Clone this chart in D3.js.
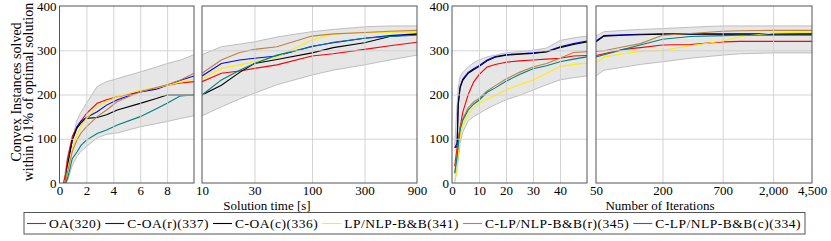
<!DOCTYPE html>
<html>
<head>
<meta charset="utf-8">
<script src="https://cdnjs.cloudflare.com/ajax/libs/d3/7.8.5/d3.min.js"></script>
<style>
	body { margin: 0; background: #fff; }
	svg text { font-family: 'Liberation Serif', 'Times New Roman', Times, 'DejaVu Serif', serif !important; fill: #000; }
</style>
</head>
<body>
<svg id="chart" width="831" height="241" font-family="Liberation Serif"></svg>
<script>

// solution time samples [s]
var timeGrid   = [0.3, 0.45, 0.6, 0.95, 1.3, 1.6, 2, 2.8, 3.5, 4.3, 6, 7.2, 8, 9, 10, 15, 22, 30, 48, 100, 156, 300, 510, 900];
var oaTime     = [0, 20, 55, 105, 127, 140, 157, 180, 188, 195, 206, 214, 221, 226, 229, 248, 253, 259, 267, 287, 292, 302, 310, 318];
var coaRTime   = [0, 0, 40, 97, 127, 140, 148, 161, 176, 188, 206, 212, 221, 232, 242, 270, 278, 282, 287, 309, 317, 327, 333, 337];
var coaCTime   = [0, 0, 40, 97, 124, 136, 146, 148, 154, 165, 180, 191, 199, 199, 199, 221, 250, 270, 279, 294, 306, 317, 331, 336];
var lpTime     = [0, 0, 30, 78, 108, 128, 146, 172, 184, 195, 210, 215, 221, 228, 235, 259, 267, 274, 285, 323, 336, 340, 341, 341];
var clpRTime   = [0, 0, 25, 71, 97, 113, 127, 150, 165, 184, 206, 216, 222, 233, 248, 278, 295, 302, 308, 332, 337, 340, 343, 345];
var clpCTime   = [0, 0, 10, 55, 70, 85, 97, 112, 120, 131, 150, 168, 180, 197, 199, 233, 255, 270, 289, 308, 318, 327, 331, 334];
var bandHiTime = [0, 30, 60, 100, 142, 160, 180, 218, 229, 236, 251, 262, 270, 278, 290, 308, 314, 319, 330, 342, 347, 353, 355, 355];
var bandLoTime = [0, 0, 5, 40, 60, 72, 82, 102, 110, 113, 127, 134, 139, 146, 152, 172, 190, 203, 222, 244, 255, 267, 278, 289];

// iteration samples
var iterGrid   = [1, 1.9, 2.3, 3, 4, 6, 8, 10, 13, 16, 20, 25, 30, 35, 40, 45, 50, 59, 89, 126, 200, 357, 700, 1012, 2000, 4500];
var oaIter     = [38, 80, 100, 125, 160, 200, 228, 245, 262, 268, 273, 276, 278, 280, 282, 287, 288, 292, 302, 306, 312, 313, 319, 320, 320, 320];
var coaRIter   = [80, 90, 180, 218, 235, 250, 258, 265, 278, 286, 290, 292, 294, 297, 308, 315, 321, 333, 335, 336, 337, 337, 337, 337, 337, 337];
var coaCIter   = [80, 82, 175, 215, 232, 248, 256, 263, 276, 284, 289, 291, 293, 296, 306, 313, 319, 332, 334, 335, 336, 336, 336, 336, 336, 336];
var lpIter     = [7, 30, 70, 105, 130, 155, 170, 180, 190, 198, 210, 222, 233, 248, 263, 268, 271, 285, 292, 297, 300, 310, 321, 331, 339, 341];
var clpRIter   = [22, 65, 90, 125, 145, 170, 183, 191, 208, 220, 235, 250, 262, 270, 282, 295, 297, 299, 308, 315, 334, 338, 343, 344, 345, 345];
var clpCIter   = [22, 60, 85, 120, 142, 165, 178, 187, 205, 215, 230, 245, 258, 265, 274, 280, 285, 290, 302, 312, 325, 331, 333, 334, 334, 334];
var bandHiIter = [85, 180, 215, 240, 250, 262, 272, 278, 285, 289, 294, 297, 300, 305, 322, 328, 332, 342, 345, 347, 349, 352, 355, 355, 355, 355];
var bandLoIter = [0, 30, 50, 90, 115, 140, 150, 157, 168, 177, 188, 198, 210, 222, 233, 238, 242, 255, 262, 268, 274, 282, 289, 292, 294, 294];

var seriesNames = ["OA(320)", "C-OA(r)(337)", "C-OA(c)(336)", "LP/NLP-B&B(341)", "C-LP/NLP-B&B(r)(345)", "C-LP/NLP-B&B(c)(334)"];
var seriesColors = ["#ff0000", "#0000ff", "#000000", "#ffee00", "#bf8040", "#008080"];

var yTicks = [0, 100, 200, 300, 400];

var timeSets = [oaTime, coaRTime, coaCTime, lpTime, clpRTime, clpCTime];
var iterSets = [oaIter, coaRIter, coaCIter, lpIter, clpRIter, clpCIter];

var svg = d3.select("#chart");
var top_ = 6, bottom = 183;
var y = d3.scaleLinear().domain([0, 400]).range([bottom, top_]);

var panels = [
	{ x: d3.scaleLinear().domain([0, 10]).range([59.5, 194]), ticks: [0, 2, 4, 6, 8], grid: [2, 4, 6, 8],
	  xs: timeGrid, sets: timeSets, hi: bandHiTime, lo: bandLoTime, yAxis: true },
	{ x: d3.scaleLog().domain([10, 900]).range([202, 417]), ticks: [10, 30, 100, 300, 900], grid: [30, 100, 300],
	  xs: timeGrid, sets: timeSets, hi: bandHiTime, lo: bandLoTime, yAxis: false },
	{ x: d3.scaleLinear().domain([0, 50]).range([452, 587]), ticks: [0, 10, 20, 30, 40], grid: [10, 20, 30, 40],
	  xs: iterGrid, sets: iterSets, hi: bandHiIter, lo: bandLoIter, yAxis: true },
	{ x: d3.scaleLog().domain([50, 4500]).range([596, 812]), ticks: [50, 200, 700, 2000, 4500], grid: [200, 700, 2000],
	  xs: iterGrid, sets: iterSets, hi: bandHiIter, lo: bandLoIter, yAxis: false }
];

// Draws one panel: band, grid, curves, frame, tick labels
function render(p, i) {

	var x = p.x, d0 = x.domain()[0], d1 = x.domain()[1];
	var idx = d3.range(p.xs.length).filter(function(k) { return p.xs[k] >= d0 && p.xs[k] <= d1; });
	var g = svg.append("g");

	g.append("clipPath").attr("id", "clip" + i)
		.append("rect").attr("x", x.range()[0]).attr("y", top_)
		.attr("width", x.range()[1] - x.range()[0]).attr("height", bottom - top_);

	var plot = g.append("g").attr("clip-path", "url(#clip" + i + ")");

	plot.append("path")
		.datum(idx)
		.attr("d", d3.area()
			.x(function(k) { return x(p.xs[k]); })
			.y0(function(k) { return y(p.lo[k]); })
			.y1(function(k) { return y(p.hi[k]); }))
		.attr("fill", "#e6e6e6");

	[p.lo, p.hi].forEach(function(edge) {
		plot.append("path")
			.datum(idx)
			.attr("d", d3.line().x(function(k) { return x(p.xs[k]); }).y(function(k) { return y(edge[k]); }))
			.attr("fill", "none").attr("stroke", "#b8b8b8").attr("stroke-width", 0.9);
	});

	// grid
	var gx = g.append("g").attr("transform", "translate(0," + bottom + ")")
		.call(d3.axisBottom(x).tickValues(p.grid).tickSize(-(bottom - top_)).tickFormat(""));
	var gy = g.append("g").attr("transform", "translate(" + x.range()[0] + ",0)")
		.call(d3.axisLeft(y).tickValues([100, 200, 300]).tickSize(-(x.range()[1] - x.range()[0])).tickFormat(""));
	[gx, gy].forEach(function(a) {
		a.select(".domain").remove();
		a.selectAll("line").attr("stroke", "#cfcfcf").attr("stroke-width", 0.9);
	});

	p.sets.forEach(function(vals, s) {
		plot.append("path")
			.datum(idx)
			.attr("d", d3.line().x(function(k) { return x(p.xs[k]); }).y(function(k) { return y(vals[k]); }))
			.attr("fill", "none").attr("stroke", seriesColors[s]).attr("stroke-width", 1.1);
	});

	g.append("rect")
		.attr("x", x.range()[0]).attr("y", top_)
		.attr("width", x.range()[1] - x.range()[0]).attr("height", bottom - top_)
		.attr("fill", "none").attr("stroke", "#555").attr("stroke-width", 1);

	var ax = g.append("g").attr("transform", "translate(0," + bottom + ")")
		.call(d3.axisBottom(x).tickValues(p.ticks).tickSize(0).tickPadding(3).tickFormat(d3.format(",")));
	ax.select(".domain").remove();
	ax.attr("font-family", null).attr("font-size", 13);

	if (p.yAxis) {
		var ay = g.append("g").attr("transform", "translate(" + x.range()[0] + ",0)")
			.call(d3.axisLeft(y).tickValues(yTicks).tickSize(0).tickPadding(3));
		ay.select(".domain").remove();
		ay.attr("font-family", null).attr("font-size", 13);
	}
}

panels.forEach(render);

// axis titles
var ylab = svg.append("text").attr("transform", "translate(20.5,92) rotate(-90)")
	.attr("text-anchor", "middle").attr("font-size", 14);
ylab.append("tspan").attr("x", 0).attr("y", 0).text("Convex Instances solved");
ylab.append("tspan").attr("x", 0).attr("y", 12).text("within 0.1% of optimal solution");

svg.append("text").attr("x", 267).attr("y", 210).attr("text-anchor", "middle")
	.attr("font-size", 13).text("Solution time [s]");
svg.append("text").attr("x", 660).attr("y", 210).attr("text-anchor", "middle")
	.attr("font-size", 13).text("Number of Iterations");

// legend, laid out left to right
var leg = svg.append("g");
var box = leg.append("rect");
var cx = 27, ly = 223.5;
seriesNames.forEach(function(name, s) {
	leg.append("line").attr("x1", cx).attr("x2", cx + 19).attr("y1", ly).attr("y2", ly)
		.attr("stroke", seriesColors[s]).attr("stroke-width", 1.1);
	var t = leg.append("text").attr("x", cx + 22).attr("y", ly + 4.5)
		.attr("font-size", 13.5).style("letter-spacing", "0.5px").text(name);
	cx += 22 + t.node().getComputedTextLength() + 4;
});
box.attr("x", 24).attr("y", 212.5).attr("width", cx - 24).attr("height", 21.5)
	.attr("fill", "#fff").attr("stroke", "#555").attr("stroke-width", 1);

</script>
</body>
</html>
